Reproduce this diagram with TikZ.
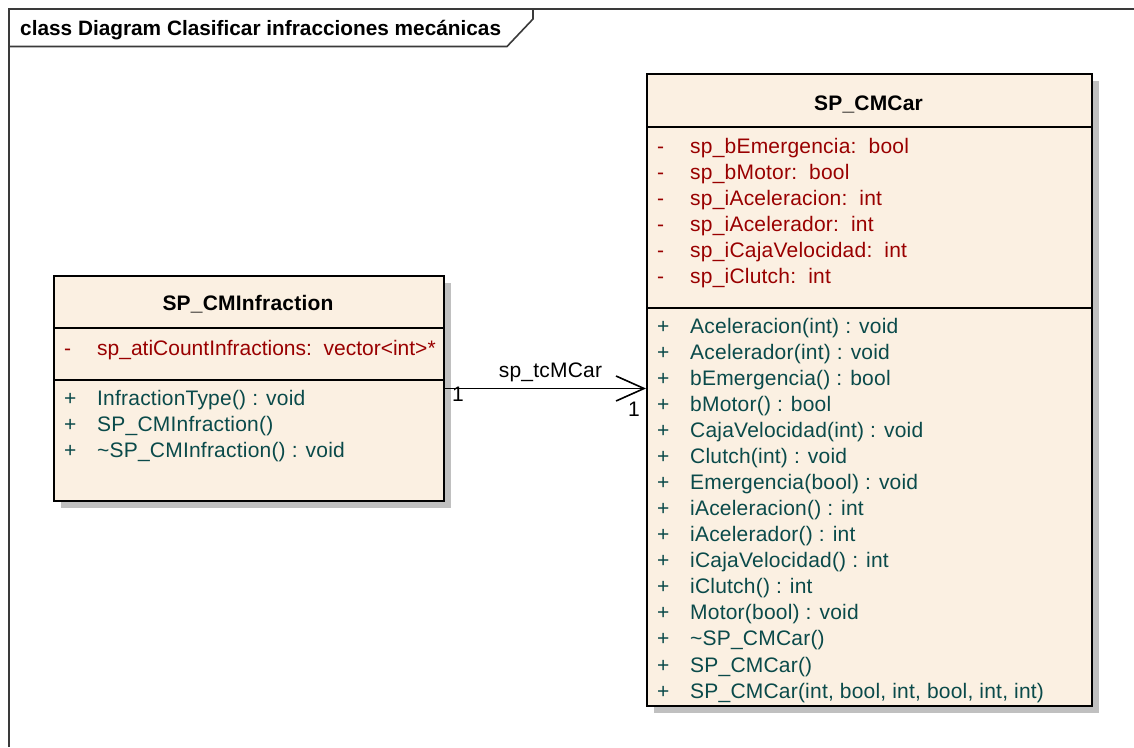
\documentclass[tikz,border=0pt]{standalone}
\usepackage{fontspec}
\setmainfont{Liberation Sans}[LetterSpace=1.0]
\newfontfamily\tightfont{Liberation Sans}
\usetikzlibrary{shadows,arrows.meta}
\definecolor{boxfill}{HTML}{FBF0E2}
\definecolor{attrred}{HTML}{990000}
\definecolor{opteal}{HTML}{0A4A4A}
\definecolor{shadowgray}{HTML}{C0C0C0}
\definecolor{framegray}{HTML}{3A3A3A}
\begin{document}
\begin{tikzpicture}[x=1pt,y=-1pt,
  classbox/.style={draw=black, line width=2pt, fill=boxfill, rectangle,
    inner sep=0pt, anchor=north west,
    drop shadow={shadow xshift=7pt, shadow yshift=-7pt, fill=shadowgray, opacity=1}},
  sep/.style={draw=black, line width=1.6pt},
  txt/.style={anchor=base west, inner sep=0pt, font=\fontsize{21}{24}\selectfont},
  ttl/.style={anchor=base, inner sep=0pt, font=\fontsize{21}{24}\selectfont\bfseries},
  attr/.style={txt, text=attrred},
  oper/.style={txt, text=opteal},
  frameline/.style={draw=framegray, line width=1.6pt},
  assoc/.style={draw=black, line width=1.6pt,
    -{Straight Barb[length=28pt, width=25pt, line width=1.6pt]}},
  lbl/.style={inner sep=0pt, font=\fontsize{21}{24}\selectfont}
]
\useasboundingbox (0,0) rectangle (1134,747);
\fill[white] (0,0) rectangle (1134,747);

% diagram frame with its name tab
\draw[frameline] (9,747) -- (9,9) -- (1134,9);
\draw[frameline] (9,46.5) -- (507,46.5) -- (533,19) -- (533,9);
\node[txt, font=\tightfont\fontsize{20.8}{24}\selectfont\bfseries] (frametitle) at (20,35)
  {class Diagram Clasificar infracciones mecánicas};

% class SP_CMInfraction
\node[classbox, minimum width=390pt, minimum height=225pt] (inf) at (53,275) {};
\draw[sep] (inf.west |- 0,328) -- (inf.east |- 0,328);
\draw[sep] (inf.west |- 0,380) -- (inf.east |- 0,380);
\node[ttl] (infname) at (248,310.5) {SP\_CMInfraction};
\node[attr] (infav1) at (64,355) {-};
\node[attr, font=\tightfont\fontsize{21}{24}\selectfont] (infa1) at (97,355)
  {sp\_atiCountInfractions:\ \ vector<int>*};
\foreach \t [count=\i from 0] in {InfractionType() : void, SP\_CMInfraction(),
    \textasciitilde SP\_CMInfraction() : void} {
  \node[oper] (infmv\i) at (64,405+26*\i) {+};
  \node[oper] (infm\i) at (97,405+26*\i) {\t};
}

% class SP_CMCar
\node[classbox, minimum width=445pt, minimum height=632pt] (car) at (646,73) {};
\draw[sep] (car.west |- 0,127) -- (car.east |- 0,127);
\draw[sep] (car.west |- 0,308) -- (car.east |- 0,308);
\node[ttl] (carname) at (868.5,110.5) {SP\_CMCar};
\foreach \t [count=\i from 0] in {sp\_bEmergencia:\ \ bool, sp\_bMotor:\ \ bool,
    sp\_iAceleracion:\ \ int, sp\_iAcelerador:\ \ int,
    sp\_iCajaVelocidad:\ \ int, sp\_iClutch:\ \ int} {
  \node[attr] (carav\i) at (657,153+26*\i) {-};
  \node[attr] (cara\i) at (690,153+26*\i) {\t};
}
\foreach \t [count=\i from 0] in {Aceleracion(int) : void, Acelerador(int) : void,
    bEmergencia() : bool, bMotor() : bool, CajaVelocidad(int) : void,
    Clutch(int) : void, Emergencia(bool) : void, iAceleracion() : int,
    iAcelerador() : int, iCajaVelocidad() : int, iClutch() : int,
    Motor(bool) : void, \textasciitilde SP\_CMCar(), SP\_CMCar(),
    {SP\_CMCar(int, bool, int, bool, int, int)}} {
  \node[oper] (carmv\i) at (657,333+26.08*\i) {+};
  \node[oper] (carm\i) at (690,333+26.08*\i) {\t};
}

% association SP_CMInfraction -> SP_CMCar
\draw[assoc] (inf.east |- 0,388.5) -- (car.west |- 0,388.5);
\node[lbl, anchor=base] (rolename) at (550.5,377) {sp\_tcMCar};
\node[lbl, anchor=base west] (multsrc) at (452,401) {1};
\node[lbl, anchor=base west] (multdst) at (628,416) {1};
\end{tikzpicture}
\end{document}
